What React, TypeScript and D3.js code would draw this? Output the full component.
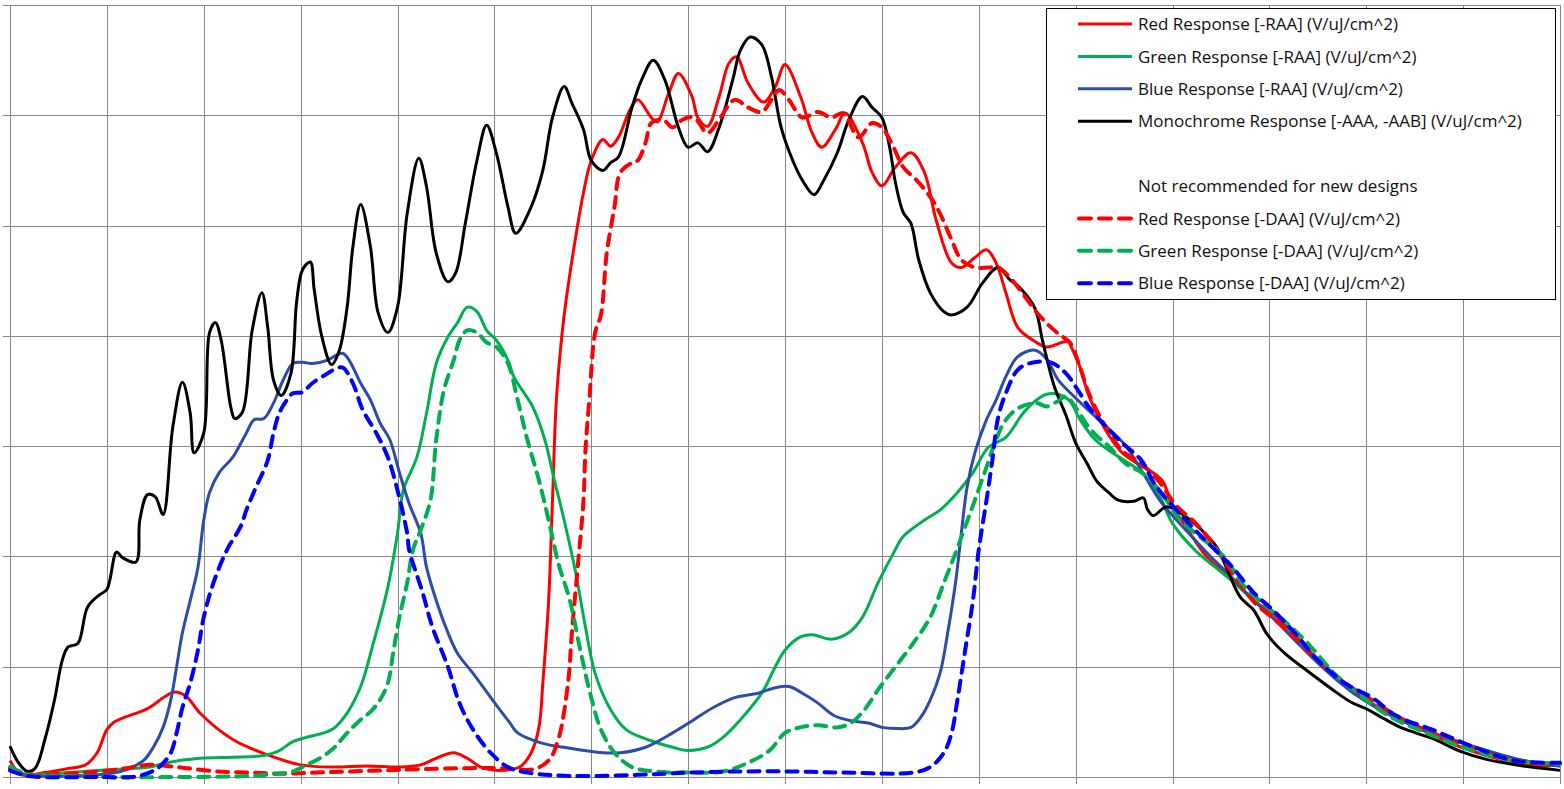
import React, { useEffect, useRef } from "react";
import * as d3 from "d3";

type Pt = [number, number];

// wavelength (nm) vs responsivity
const redRAA: Pt[] = [[300,1.5],[306,0.2],[318,0.4],[331,0.8],[339,1.1],[345,2.2],[350,4.3],[354,5.0],[359,5.4],[367,5.9],[372,6.3],[380,7.3],[385,7.7],[391,7.3],[398,5.8],[415,3.4],[433,2.0],[450,1.1],[467,0.9],[484,1.0],[501,0.9],[512,1.1],[520,1.7],[529,2.2],[536,1.7],[543,0.9],[553,0.6],[563,0.9],[569,2.2],[573,4.5],[575,8.5],[578,16.0],[580,25.1],[582,34.2],[585,40.3],[587,43.2],[592,49.0],[596,53.0],[600,55.9],[606,57.8],[610,57.2],[614,58.0],[620,60.5],[624,61.4],[631,59.8],[634,59.4],[640,62.0],[645,63.8],[652,61.7],[655,59.8],[660,59.0],[666,61.7],[671,64.7],[675,65.3],[681,62.9],[689,61.2],[695,62.6],[700,64.6],[708,61.7],[714,58.4],[719,57.1],[726,58.7],[731,60.2],[740,57.5],[745,54.8],[750,53.6],[757,55.3],[765,56.6],[772,54.8],[778,50.5],[786,46.6],[791,46.2],[798,47.1],[804,47.8],[809,46.6],[814,43.9],[820,40.8],[828,39.6],[835,39.0],[846,39.5],[848,38.9],[852,37.3],[857,34.5],[865,31.6],[874,29.4],[882,28.4],[889,27.7],[895,26.8],[900,24.6],[908,22.4],[917,20.1],[930,18.0],[942,16.0],[952,14.8],[962,13.1],[973,11.0],[986,8.7],[997,7.4],[1012,5.7],[1027,4.4],[1049,2.7],[1072,1.5],[1091,1.0],[1100,1.1]];

const greenRAA: Pt[] = [[300,1.1],[307,0.3],[321,0.3],[338,0.5],[355,0.7],[372,0.9],[381,1.3],[398,1.7],[415,1.8],[429,1.9],[438,2.3],[446,3.2],[453,3.6],[462,4.0],[467,4.4],[474,5.8],[481,8.2],[487,11.8],[495,17.2],[500,22.1],[503,26.0],[510,29.0],[515,33.0],[520,37.5],[526,39.9],[531,41.2],[536,42.6],[541,42.2],[546,40.5],[551,39.6],[557,37.8],[560,36.3],[570,33.5],[576,30.6],[581,26.9],[586,23.3],[592,18.5],[597,13.6],[602,9.4],[610,6.1],[618,4.3],[629,3.4],[642,2.7],[650,2.4],[660,2.7],[668,3.6],[677,5.2],[688,7.6],[695,10.0],[700,11.5],[708,12.7],[714,12.9],[724,12.5],[733,13.1],[740,14.5],[748,17.6],[756,20.3],[761,21.8],[772,23.3],[780,24.2],[789,25.8],[797,27.6],[805,29.9],[814,30.8],[823,33.0],[830,34.2],[835,34.7],[841,34.7],[847,34.1],[852,32.5],[860,30.6],[869,29.4],[878,28.4],[885,27.5],[893,25.6],[900,23.0],[912,20.5],[923,18.9],[932,17.6],[942,16.0],[952,14.4],[966,12.2],[979,10.0],[992,7.8],[1007,6.2],[1025,4.6],[1044,3.4],[1062,2.4],[1081,1.5],[1100,1.0]];

const blueRAA: Pt[] = [[300,0.9],[307,0.2],[329,0.1],[346,0.2],[357,0.5],[363,0.9],[369,1.5],[374,2.7],[379,4.5],[383,7.0],[386,10.0],[389,13.1],[393,16.0],[397,19.0],[400,23.3],[403,25.8],[408,27.6],[415,29.0],[422,31.2],[426,32.4],[431,32.5],[436,33.9],[441,36.0],[446,37.5],[451,37.6],[456,37.5],[464,37.8],[469,38.3],[472,38.4],[475,37.8],[481,35.7],[486,34.2],[491,32.1],[496,30.6],[501,27.6],[506,24.8],[512,22.1],[515,19.0],[520,16.0],[526,13.1],[531,11.2],[539,9.4],[549,7.0],[558,4.9],[562,4.0],[574,3.1],[589,2.6],[606,2.2],[615,2.2],[628,2.7],[642,4.0],[653,5.2],[663,6.3],[674,7.2],[686,7.6],[695,8.1],[702,8.2],[709,7.6],[717,6.7],[725,5.6],[734,5.1],[743,4.9],[750,4.5],[757,4.4],[765,4.5],[770,5.4],[775,7.0],[780,9.4],[784,13.1],[788,17.6],[791,22.1],[794,26.3],[798,29.4],[804,32.4],[809,34.2],[814,36.3],[820,38.1],[829,38.7],[835,37.9],[841,36.0],[848,34.7],[857,33.2],[867,31.6],[876,30.0],[885,27.5],[893,25.2],[900,23.7],[910,21.8],[919,20.1],[930,18.2],[942,16.0],[952,14.4],[966,11.9],[979,9.7],[992,7.8],[1007,6.1],[1025,4.6],[1044,3.4],[1062,2.4],[1081,1.5],[1100,1.0]];

const monoAAA: Pt[] = [[300,2.8],[304,1.4],[309,0.5],[313,0.8],[318,3.4],[323,7.0],[327,10.6],[330,11.8],[335,12.1],[340,15.4],[346,16.5],[350,17.0],[355,20.4],[358,19.9],[365,19.5],[367,23.3],[371,25.6],[375,25.4],[379,23.8],[384,31.7],[389,35.8],[393,33.0],[395,29.4],[400,31.2],[403,40.3],[406,41.2],[409,39.6],[414,33.5],[416,32.5],[420,33.1],[425,40.5],[430,43.9],[433,40.8],[436,36.0],[440,34.6],[445,36.6],[448,43.2],[451,46.0],[455,46.7],[457,44.2],[461,39.9],[466,37.4],[470,38.7],[474,42.6],[477,48.1],[481,51.9],[486,48.1],[490,42.1],[495,40.3],[500,42.6],[505,51.1],[511,56.1],[515,53.5],[520,47.5],[526,44.9],[530,45.7],[535,50.2],[541,55.9],[546,59.1],[551,56.6],[557,51.7],[561,49.3],[569,51.7],[575,55.0],[580,59.8],[586,62.6],[590,61.1],[596,58.7],[600,55.9],[606,55.0],[610,55.7],[614,56.2],[621,60.7],[626,63.2],[632,65.0],[638,63.2],[645,58.9],[650,57.1],[655,57.5],[660,56.7],[666,58.9],[673,63.2],[677,65.9],[682,67.1],[688,66.4],[693,63.5],[698,58.9],[704,55.9],[709,54.1],[715,52.8],[720,54.1],[727,56.6],[733,59.6],[740,61.7],[745,60.7],[750,59.8],[754,57.1],[757,53.9],[761,51.2],[765,50.2],[769,46.9],[775,43.9],[782,42.2],[786,41.9],[794,42.6],[802,44.8],[810,46.2],[816,45.1],[821,44.4],[829,42.5],[833,39.5],[839,35.4],[845,32.8],[850,30.3],[856,28.4],[861,26.8],[867,25.8],[872,25.1],[880,25.0],[885,25.3],[887,24.3],[890,23.7],[897,24.5],[906,23.7],[915,22.4],[923,20.8],[928,18.9],[935,16.3],[942,15.1],[949,12.9],[958,11.2],[969,9.7],[982,8.0],[992,6.8],[1001,6.1],[1009,5.3],[1019,4.4],[1034,3.5],[1049,2.3],[1062,1.6],[1081,1.0],[1100,0.6]];

const redDAA: Pt[] = [[300,0.8],[312,0.2],[329,0.3],[346,0.5],[360,0.8],[372,1.1],[381,1.0],[391,0.8],[407,0.5],[424,0.4],[441,0.3],[458,0.4],[475,0.5],[493,0.6],[510,0.7],[536,0.8],[553,0.8],[570,0.7],[578,1.5],[583,3.4],[588,8.5],[590,13.1],[593,19.0],[596,25.1],[597,29.6],[599,34.2],[602,40.3],[605,41.9],[608,47.5],[612,51.7],[615,54.8],[621,55.7],[624,55.9],[628,57.5],[631,59.3],[637,59.6],[642,58.9],[647,59.6],[653,59.8],[660,58.4],[666,59.6],[674,61.4],[681,60.7],[688,60.3],[693,61.4],[697,62.3],[702,61.4],[709,59.8],[717,60.3],[724,59.8],[730,60.2],[738,58.0],[745,59.3],[750,58.9],[756,57.1],[761,55.3],[768,54.1],[775,52.6],[780,51.1],[786,48.7],[791,46.9],[798,46.2],[805,46.2],[810,46.2],[816,45.3],[822,44.0],[832,41.7],[841,40.2],[847,39.4],[852,37.3],[857,34.7],[865,31.9],[874,29.6],[884,28.4],[893,26.8],[902,24.6],[912,23.0],[921,21.1],[932,18.2],[943,15.7],[952,14.4],[964,12.5],[975,10.6],[990,8.4],[1001,7.2],[1016,5.5],[1034,4.0],[1053,2.7],[1076,1.5],[1100,1.2]];

const greenDAA: Pt[] = [[300,0.9],[309,0.2],[329,0.1],[355,0.0],[389,0.0],[424,0.1],[438,0.3],[446,0.5],[453,1.1],[460,1.7],[467,2.6],[474,4.0],[481,5.2],[486,5.9],[491,7.0],[495,8.5],[498,11.5],[501,14.5],[505,17.6],[508,20.6],[512,22.4],[517,25.1],[520,30.6],[524,35.1],[529,37.8],[532,39.6],[536,40.5],[541,40.3],[546,39.4],[551,39.0],[557,37.5],[562,34.2],[567,30.6],[573,26.9],[578,23.3],[583,19.4],[589,16.0],[594,11.8],[599,7.9],[605,4.3],[612,2.2],[621,0.9],[633,0.5],[650,0.4],[668,0.5],[681,1.3],[692,2.4],[700,4.0],[708,4.5],[717,4.7],[727,4.5],[734,4.9],[741,6.1],[748,7.9],[757,10.0],[766,12.1],[775,14.5],[782,17.6],[788,20.3],[793,22.7],[798,25.1],[804,28.1],[809,30.6],[814,32.4],[821,33.5],[830,33.9],[835,33.6],[841,34.1],[845,34.5],[850,33.5],[856,31.9],[861,30.9],[867,30.0],[876,28.4],[885,27.5],[895,25.6],[904,23.3],[914,21.8],[919,21.1],[927,19.9],[937,17.3],[949,15.4],[960,13.8],[971,11.9],[984,9.3],[997,7.4],[1012,5.5],[1031,4.0],[1053,2.5],[1076,1.5],[1100,1.2]];

const blueDAA: Pt[] = [[300,0.6],[309,0.1],[346,0.0],[363,0.0],[372,0.4],[377,0.9],[383,2.2],[386,4.0],[389,6.3],[393,8.5],[397,11.5],[400,14.5],[405,17.6],[412,20.6],[419,22.7],[422,24.2],[427,26.3],[433,28.7],[436,31.2],[439,33.0],[443,34.2],[446,34.8],[451,34.9],[456,35.7],[464,36.6],[469,37.1],[472,37.1],[477,35.7],[482,33.3],[489,31.2],[495,29.0],[500,26.0],[505,22.1],[506,20.6],[513,16.7],[518,13.6],[526,10.0],[532,6.7],[539,4.3],[548,2.2],[557,0.9],[567,0.4],[589,0.1],[624,0.2],[650,0.4],[677,0.5],[704,0.5],[730,0.4],[766,0.4],[775,0.9],[782,2.2],[786,4.0],[789,7.0],[793,11.5],[797,16.0],[800,20.6],[804,25.1],[807,28.7],[810,32.6],[814,34.8],[820,36.9],[826,37.5],[837,37.6],[845,36.6],[850,35.4],[857,33.5],[865,31.9],[874,30.3],[884,28.7],[891,26.5],[900,24.6],[910,22.7],[919,21.1],[930,19.2],[942,16.7],[952,15.1],[964,12.9],[975,10.6],[990,8.4],[1003,7.2],[1016,5.5],[1034,4.3],[1053,2.9],[1076,1.5],[1100,1.3]];

const xTicks = d3.range(300, 1101, 50);
const yTicks = d3.range(0, 71, 10);

type Series = { label: string; color: string; dashed: boolean; data: Pt[] };

const series: Series[] = [
  { label: "Red Response [-RAA] (V/uJ/cm^2)", color: "#ff0000", dashed: false, data: redRAA },
  { label: "Green Response [-RAA] (V/uJ/cm^2)", color: "#00b050", dashed: false, data: greenRAA },
  { label: "Blue Response [-RAA] (V/uJ/cm^2)", color: "#2c4ca8", dashed: false, data: blueRAA },
  { label: "Monochrome Response [-AAA, -AAB] (V/uJ/cm^2)", color: "#000000", dashed: false, data: monoAAA },
  { label: "Red Response [-DAA] (V/uJ/cm^2)", color: "#ff0000", dashed: true, data: redDAA },
  { label: "Green Response [-DAA] (V/uJ/cm^2)", color: "#00b050", dashed: true, data: greenDAA },
  { label: "Blue Response [-DAA] (V/uJ/cm^2)", color: "#0000ff", dashed: true, data: blueDAA },
];

const App: React.FC = () => {
  const ref = useRef<SVGSVGElement | null>(null);

  useEffect(() => {
    if (!ref.current) return;
    const svg = d3.select(ref.current);
    svg.selectAll("*").remove();

    const left = 10, right = 1560, top = 5, bottom = 777;
    const x = d3.scaleLinear().domain([300, 1100]).range([left, right]);
    const y = d3.scaleLinear().domain([0, 70]).range([bottom, top]);

    svg.append("rect").attr("width", 1564).attr("height", 789).attr("fill", "#fff");

    // grid lines via axes, with short tick stubs outside the plot
    const gx = svg
      .append("g")
      .attr("transform", `translate(0,${bottom})`)
      .call(d3.axisBottom(x).tickValues(xTicks).tickSize(-(bottom - top)).tickSizeOuter(0).tickFormat(() => ""));
    gx.selectAll(".tick line").attr("y1", 7);

    const gy = svg
      .append("g")
      .attr("transform", `translate(${left},0)`)
      .call(d3.axisLeft(y).tickValues(yTicks).tickSize(-(right - left)).tickSizeOuter(0).tickFormat(() => ""));
    gy.selectAll(".tick line").attr("x1", -7);

    svg.selectAll(".domain").remove();
    svg.selectAll(".tick text").remove();
    svg.selectAll(".tick line").attr("stroke", "#888").attr("stroke-width", 1).attr("shape-rendering", "crispEdges");

    const line = d3
      .line<Pt>()
      .x((d) => x(d[0]))
      .y((d) => y(d[1]))
      .curve(d3.curveCatmullRom.alpha(0.5));

    svg
      .append("g")
      .selectAll("path")
      .data(series)
      .enter()
      .append("path")
      .attr("d", (d) => line(d.data) as string)
      .attr("fill", "none")
      .attr("stroke", (d) => d.color)
      .attr("stroke-width", (d) => (d.dashed ? 4 : 3))
      .attr("stroke-dasharray", (d) => (d.dashed ? "11 8" : null))
      .attr("stroke-linecap", (d) => (d.dashed ? "round" : "butt"))
      .attr("stroke-linejoin", "round");

    // legend
    const lg = svg.append("g");
    lg.append("rect")
      .attr("x", 1046.5)
      .attr("y", 8.5)
      .attr("width", 509)
      .attr("height", 291)
      .attr("fill", "#fff")
      .attr("stroke", "#000")
      .attr("stroke-width", 1);

    const rows = [
      ...series.slice(0, 4).map((s, i) => ({ s, i })),
      ...series.slice(4).map((s, i) => ({ s, i: i + 6 })),
    ];
    const rowY = (i: number) => 24 + i * 32.4;

    lg.selectAll("line.sample")
      .data(rows)
      .enter()
      .append("line")
      .attr("x1", (d) => (d.s.dashed ? 1079 : 1078))
      .attr("x2", 1132)
      .attr("y1", (d) => rowY(d.i))
      .attr("y2", (d) => rowY(d.i))
      .attr("stroke", (d) => d.s.color)
      .attr("stroke-width", (d) => (d.s.dashed ? 4 : 3))
      .attr("stroke-dasharray", (d) => (d.s.dashed ? "12 8" : null))
      .attr("stroke-linecap", (d) => (d.s.dashed ? "round" : "butt"));

    lg.selectAll("text.lbl")
      .data(rows)
      .enter()
      .append("text")
      .attr("x", 1138)
      .attr("y", (d) => rowY(d.i))
      .attr("dy", "0.36em")
      .style("font-family", "'Open Sans', sans-serif")
      .style("font-size", "17px")
      .attr("fill", "#111")
      .text((d) => d.s.label);

    lg.append("text")
      .attr("x", 1138)
      .attr("y", rowY(5))
      .attr("dy", "0.36em")
      .style("font-family", "'Open Sans', sans-serif")
      .style("font-size", "17px")
      .attr("fill", "#111")
      .text("Not recommended for new designs");
  }, []);

  return (
    <svg
      ref={ref}
      width={1564}
      height={789}
      style={{ position: "absolute", left: 0, top: 0 }}
    ></svg>
  );
};

export default App;
